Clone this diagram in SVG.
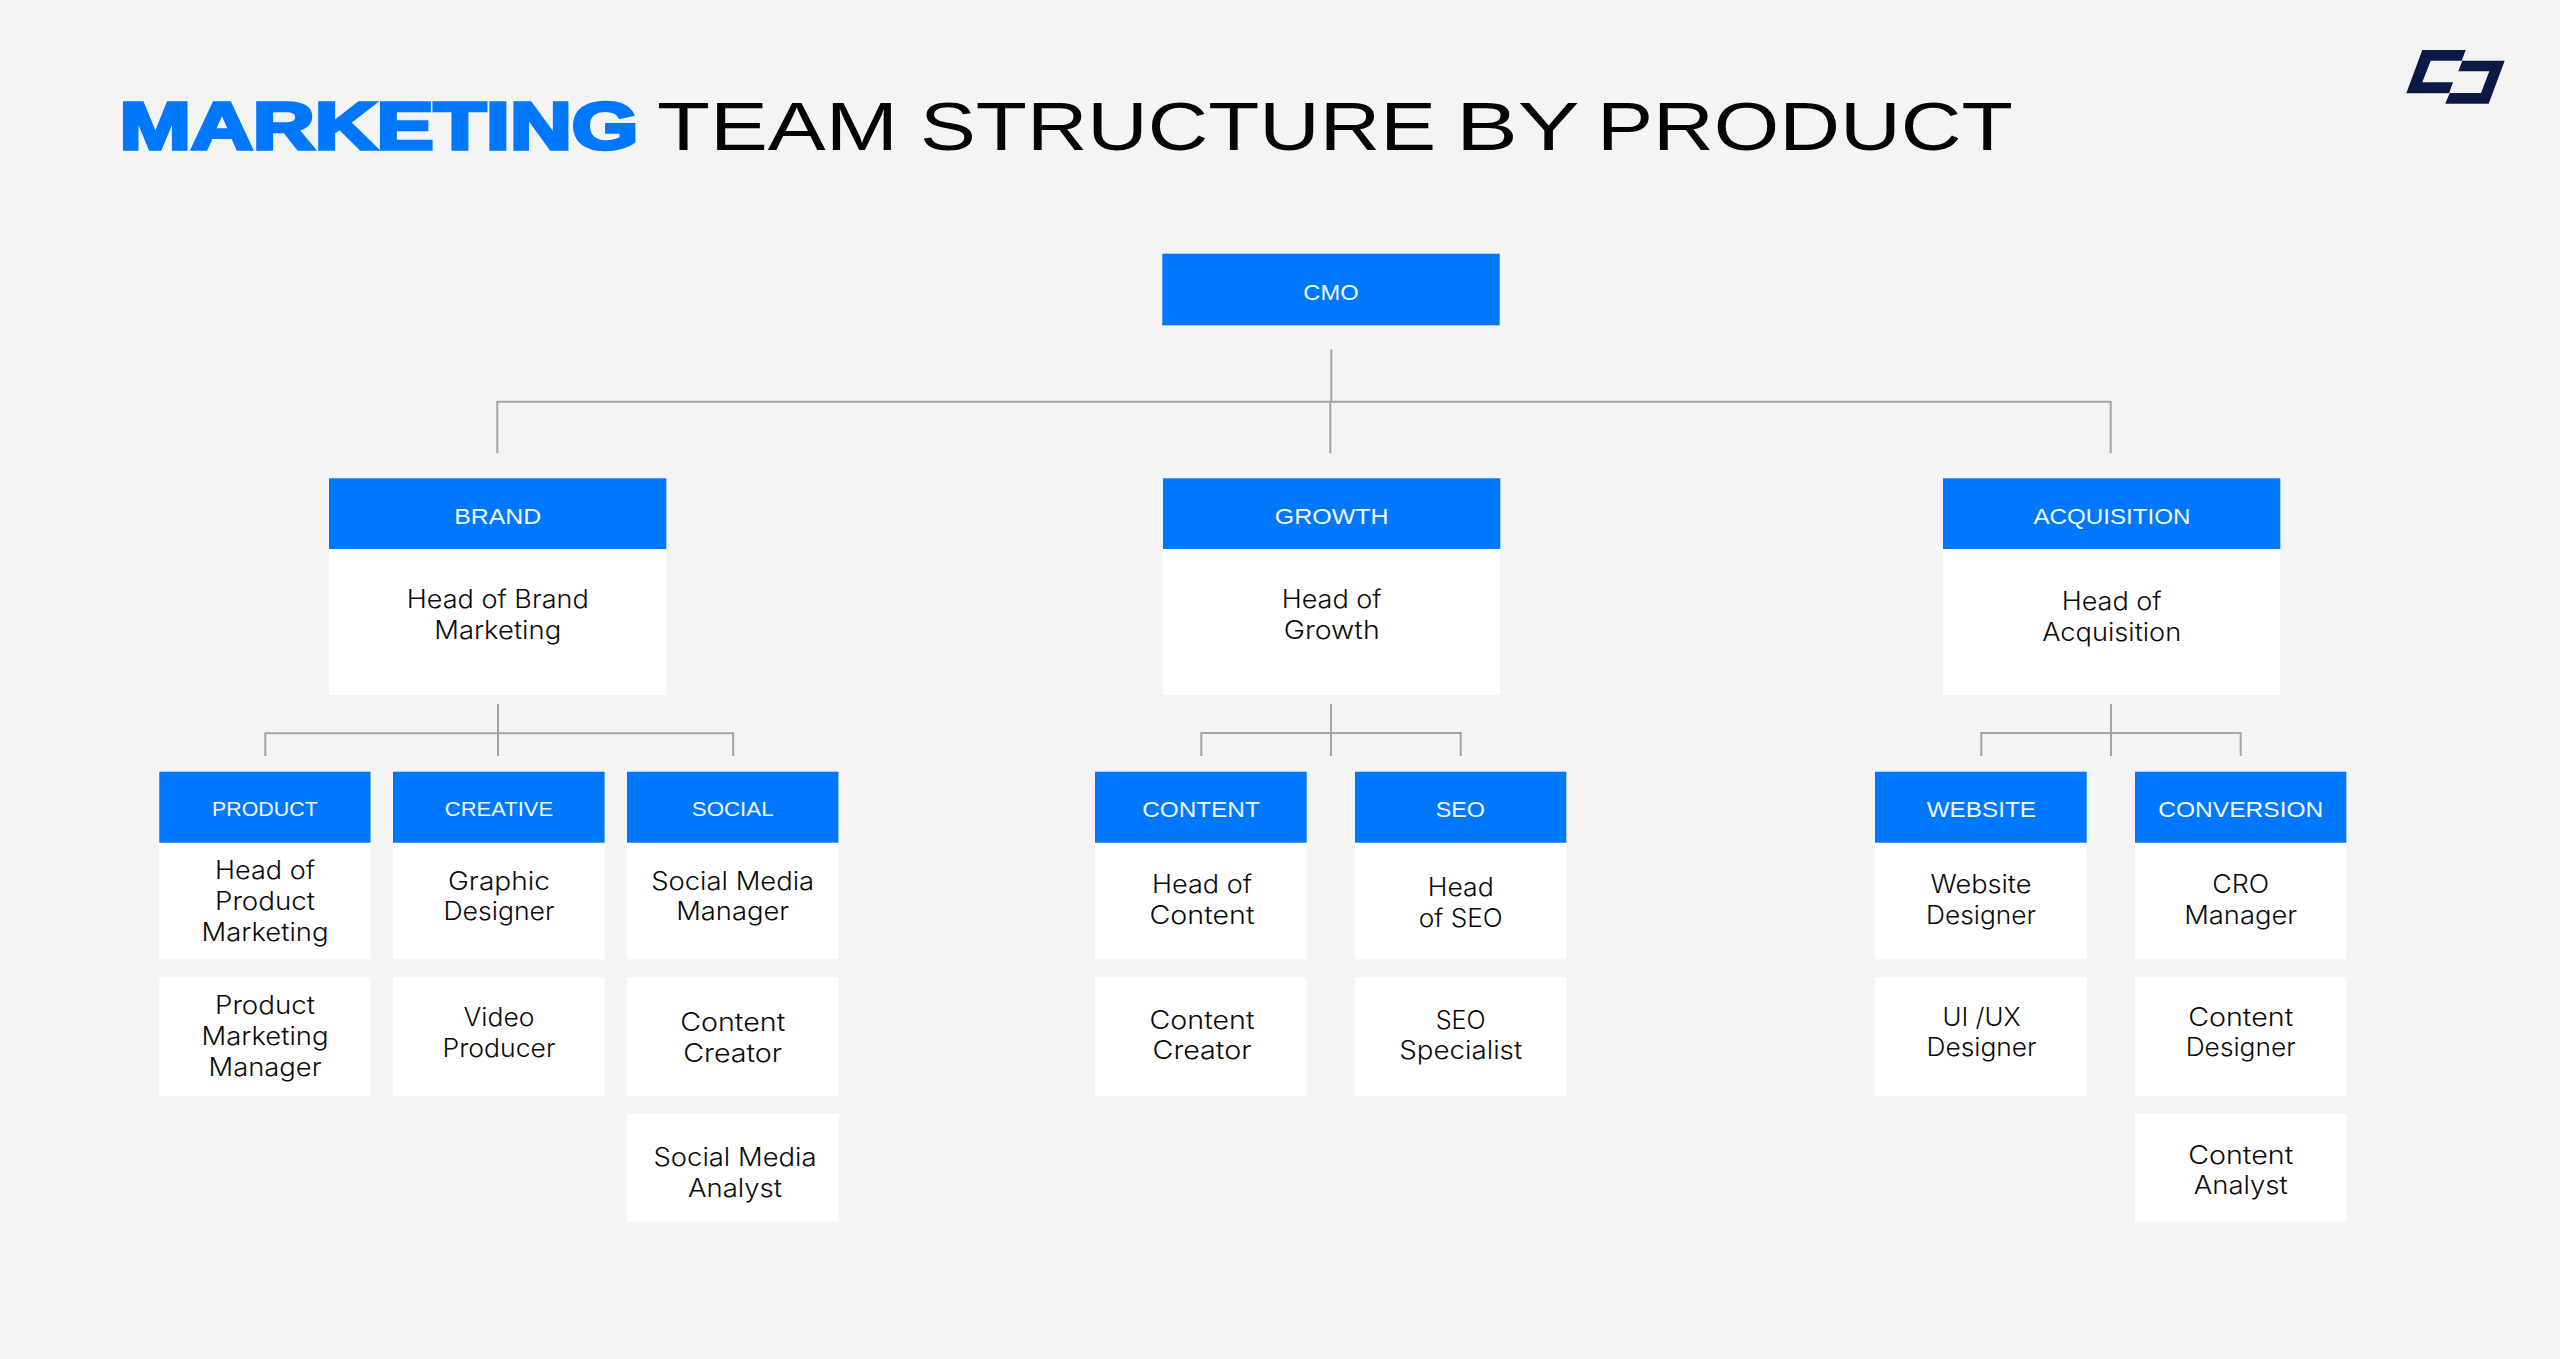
<svg xmlns="http://www.w3.org/2000/svg" width="2560" height="1359" viewBox="0 0 2560 1359">
<style>
.bg{fill:#f4f4f4}
.h{fill:#0077ff}
.w{fill:#fff}
.c{fill:none;stroke:#a4a4a4;stroke-width:2}
text{text-anchor:middle}
.l{font-family:"Liberation Sans",Arial,sans-serif;font-size:21.5px;fill:#f4f8ff}
.s{font-size:19.5px}
.b{font-family:Inter,"Liberation Sans",sans-serif;font-size:25.5px;fill:#0a0a0a;font-weight:300}
.t1{font-family:"Liberation Sans",Arial,sans-serif;font-weight:700;font-size:67.5px;fill:#0077ff;stroke:#0077ff;stroke-width:3.6px;text-anchor:start}
.t2{font-family:"Liberation Sans",Arial,sans-serif;font-size:69px;fill:#050505;text-anchor:start}
</style>
<rect class="bg" width="2560" height="1359"/>
<g id="title">
<text class="t1" x="119.5" y="148.5" textLength="519" lengthAdjust="spacingAndGlyphs">MARKETING</text>
<text class="t2" y="150"><tspan x="657" textLength="241" lengthAdjust="spacingAndGlyphs">TEAM</tspan> <tspan x="920" textLength="516" lengthAdjust="spacingAndGlyphs">STRUCTURE</tspan> <tspan x="1456" textLength="122" lengthAdjust="spacingAndGlyphs">BY</tspan> <tspan x="1597" textLength="416" lengthAdjust="spacingAndGlyphs">PRODUCT</tspan></text>
</g>
<g id="logo" fill="#0a1a45">
<polygon points="2422.3,50 2465.7,50 2461.7,60.7 2430.7,60.7 2422.3,82.3 2453,82.3 2449,93.3 2406.3,93.3"/>
<polygon points="2462.3,60.7 2504.7,60.7 2488.7,103.7 2445.3,103.7 2449.7,93 2481,93 2489.3,71.3 2458.3,71.3"/>
</g>
<g id="connectors">
<path class="c" d="M1331.3 349.5V401.7M1330.3 401.7V453.3M497.3 453.3V401.7H2110.7V453.3"/>
<path class="c" d="M498 704V756M265.3 756V733.3H733.2V756"/>
<path class="c" d="M1331 704V756M1201.3 756V733H1460.7V756"/>
<path class="c" d="M2111 704V756M1981.3 756V733H2240.7V756"/>
</g>
<g id="cmo"><rect class="h" x="1162.3" y="253.7" width="337.4" height="71.6"/><text class="l" x="1331" y="300" textLength="55.3" lengthAdjust="spacingAndGlyphs">CMO</text></g>
<g id="brand"><rect class="w" x="329" y="549" width="337.3" height="146"/><rect class="h" x="329" y="478.3" width="337.3" height="70.7"/><text class="l" x="497.7" y="524" textLength="87" lengthAdjust="spacingAndGlyphs">BRAND</text>
<text class="b" x="497.7" y="607.7" textLength="182" lengthAdjust="spacingAndGlyphs">Head of Brand</text><text class="b" x="497.7" y="638.7" textLength="127" lengthAdjust="spacingAndGlyphs">Marketing</text></g>
<g id="growth"><rect class="w" x="1163" y="549" width="337.3" height="146"/><rect class="h" x="1163" y="478.3" width="337.3" height="70.7"/><text class="l" x="1331.7" y="524" textLength="113.7" lengthAdjust="spacingAndGlyphs">GROWTH</text>
<text class="b" x="1331.7" y="607.7" textLength="100" lengthAdjust="spacingAndGlyphs">Head of</text><text class="b" x="1331.7" y="638.7" textLength="96" lengthAdjust="spacingAndGlyphs">Growth</text></g>
<g id="acquisition"><rect class="w" x="1943" y="549" width="337.3" height="146"/><rect class="h" x="1943" y="478.3" width="337.3" height="70.7"/><text class="l" x="2112" y="524" textLength="157" lengthAdjust="spacingAndGlyphs">ACQUISITION</text>
<text class="b" x="2111.7" y="610" textLength="100" lengthAdjust="spacingAndGlyphs">Head of</text><text class="b" x="2111.7" y="641" textLength="139" lengthAdjust="spacingAndGlyphs">Acquisition</text></g>
<g id="product"><rect class="w" x="159.3" y="842.7" width="211.2" height="116.6"/><rect class="h" x="159.3" y="771.7" width="211.2" height="71"/><text class="l s" x="264.9" y="816" textLength="105.6" lengthAdjust="spacingAndGlyphs">PRODUCT</text>
<text class="b" x="265" y="879" textLength="100" lengthAdjust="spacingAndGlyphs">Head of</text><text class="b" x="265" y="909.8" textLength="100" lengthAdjust="spacingAndGlyphs">Product</text><text class="b" x="265" y="940.7" textLength="127" lengthAdjust="spacingAndGlyphs">Marketing</text></g>
<g id="product-manager"><rect class="w" x="159.3" y="977.3" width="211.2" height="118.7"/><text class="b" x="265" y="1013.8" textLength="100" lengthAdjust="spacingAndGlyphs">Product</text><text class="b" x="265" y="1045" textLength="127" lengthAdjust="spacingAndGlyphs">Marketing</text><text class="b" x="265" y="1075.8" textLength="113" lengthAdjust="spacingAndGlyphs">Manager</text></g>
<g id="creative"><rect class="w" x="393" y="842.7" width="211.6" height="116.6"/><rect class="h" x="393" y="771.7" width="211.6" height="71"/><text class="l s" x="499" y="816" textLength="108.4" lengthAdjust="spacingAndGlyphs">CREATIVE</text>
<text class="b" x="499" y="889.5" textLength="102" lengthAdjust="spacingAndGlyphs">Graphic</text><text class="b" x="499" y="920.4" textLength="111" lengthAdjust="spacingAndGlyphs">Designer</text></g>
<g id="video-producer"><rect class="w" x="393" y="977.3" width="211.6" height="118.7"/><text class="b" x="499" y="1025.6" textLength="71" lengthAdjust="spacingAndGlyphs">Video</text><text class="b" x="499" y="1057.2" textLength="113" lengthAdjust="spacingAndGlyphs">Producer</text></g>
<g id="social"><rect class="w" x="627" y="842.7" width="211.4" height="116.6"/><rect class="h" x="627" y="771.7" width="211.4" height="71"/><text class="l s" x="732.7" y="816" textLength="81.7" lengthAdjust="spacingAndGlyphs">SOCIAL</text>
<text class="b" x="732.7" y="889.5" textLength="163" lengthAdjust="spacingAndGlyphs">Social Media</text><text class="b" x="732.7" y="920.4" textLength="113" lengthAdjust="spacingAndGlyphs">Manager</text></g>
<g id="content-creator-social"><rect class="w" x="627" y="977.3" width="211.4" height="118.7"/><text class="b" x="732.7" y="1031" textLength="105" lengthAdjust="spacingAndGlyphs">Content</text><text class="b" x="732.7" y="1061.8" textLength="99" lengthAdjust="spacingAndGlyphs">Creator</text></g>
<g id="social-analyst"><rect class="w" x="627" y="1114" width="211.4" height="107.7"/><text class="b" x="735" y="1166" textLength="163" lengthAdjust="spacingAndGlyphs">Social Media</text><text class="b" x="735" y="1196.5" textLength="94" lengthAdjust="spacingAndGlyphs">Analyst</text></g>
<g id="content"><rect class="w" x="1095" y="842.7" width="211.7" height="116.6"/><rect class="h" x="1095" y="771.7" width="211.7" height="71"/><text class="l" x="1201" y="817" textLength="117.7" lengthAdjust="spacingAndGlyphs">CONTENT</text>
<text class="b" x="1202" y="893.3" textLength="100" lengthAdjust="spacingAndGlyphs">Head of</text><text class="b" x="1202" y="924.3" textLength="105" lengthAdjust="spacingAndGlyphs">Content</text></g>
<g id="content-creator"><rect class="w" x="1095" y="977.3" width="211.7" height="118.7"/><text class="b" x="1202" y="1028.8" textLength="105" lengthAdjust="spacingAndGlyphs">Content</text><text class="b" x="1202" y="1059.3" textLength="99" lengthAdjust="spacingAndGlyphs">Creator</text></g>
<g id="seo"><rect class="w" x="1355" y="842.7" width="211.3" height="116.6"/><rect class="h" x="1355" y="771.7" width="211.3" height="71"/><text class="l" x="1460.3" y="817" textLength="49.3" lengthAdjust="spacingAndGlyphs">SEO</text>
<text class="b" x="1460.7" y="896" textLength="66" lengthAdjust="spacingAndGlyphs">Head</text><text class="b" x="1460.7" y="926.7" textLength="84" lengthAdjust="spacingAndGlyphs">of SEO</text></g>
<g id="seo-specialist"><rect class="w" x="1355" y="977.3" width="211.3" height="118.7"/><text class="b" x="1460.7" y="1028.8" textLength="50" lengthAdjust="spacingAndGlyphs">SEO</text><text class="b" x="1460.7" y="1059.3" textLength="123" lengthAdjust="spacingAndGlyphs">Specialist</text></g>
<g id="website"><rect class="w" x="1875" y="842.7" width="211.7" height="116.6"/><rect class="h" x="1875" y="771.7" width="211.7" height="71"/><text class="l" x="1981.3" y="817" textLength="109.3" lengthAdjust="spacingAndGlyphs">WEBSITE</text>
<text class="b" x="1981" y="892.7" textLength="101" lengthAdjust="spacingAndGlyphs">Website</text><text class="b" x="1981" y="923.7" textLength="110" lengthAdjust="spacingAndGlyphs">Designer</text></g>
<g id="ux-designer"><rect class="w" x="1875" y="977.3" width="211.7" height="118.7"/><text class="b" x="1981.5" y="1025.8" textLength="78" lengthAdjust="spacingAndGlyphs">UI /UX</text><text class="b" x="1981.5" y="1056" textLength="110" lengthAdjust="spacingAndGlyphs">Designer</text></g>
<g id="conversion"><rect class="w" x="2135" y="842.7" width="211.3" height="116.6"/><rect class="h" x="2135" y="771.7" width="211.3" height="71"/><text class="l" x="2240.8" y="817" textLength="165" lengthAdjust="spacingAndGlyphs">CONVERSION</text>
<text class="b" x="2240.7" y="892.7" textLength="57" lengthAdjust="spacingAndGlyphs">CRO</text><text class="b" x="2240.7" y="923.7" textLength="113" lengthAdjust="spacingAndGlyphs">Manager</text></g>
<g id="content-designer"><rect class="w" x="2135" y="977.3" width="211.3" height="118.7"/><text class="b" x="2240.7" y="1025.8" textLength="105" lengthAdjust="spacingAndGlyphs">Content</text><text class="b" x="2240.7" y="1056" textLength="110" lengthAdjust="spacingAndGlyphs">Designer</text></g>
<g id="content-analyst"><rect class="w" x="2135" y="1114" width="211.3" height="107.7"/><text class="b" x="2240.7" y="1163.8" textLength="105" lengthAdjust="spacingAndGlyphs">Content</text><text class="b" x="2240.7" y="1194" textLength="94" lengthAdjust="spacingAndGlyphs">Analyst</text></g>
</svg>
